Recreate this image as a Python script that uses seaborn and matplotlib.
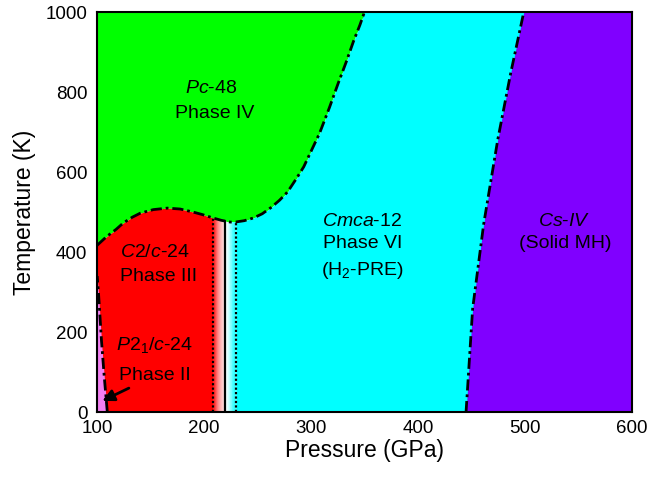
import numpy as np
import matplotlib
matplotlib.use('Agg')
import matplotlib.pyplot as plt
import seaborn as sns

# ---------- Data ----------
# upper boundary of phases II/III/VI (dash-dot curve), Pressure (GPa) vs T (K)
curve_p = [100, 108, 117, 124, 132, 140, 152, 165, 177, 187, 197, 205, 215, 224, 229,
           237, 246, 254, 262, 270, 278, 285, 293, 300, 308, 316, 324, 332, 339, 345, 350]
curve_t = [417, 437, 455, 472, 486, 497, 506, 510, 508, 502, 495, 488, 480, 475, 475,
           478, 485, 495, 510, 528, 550, 578, 612, 652, 697, 752, 812, 868, 922, 962, 1000]

# Phase II / Phase III boundary (left, near 100 GPa)
ii_t = [0, 60, 160, 230, 290, 340]
ii_p = [109.5, 107.5, 104.5, 102.8, 101.5, 100]

# Phase VI / Cs-IV boundary
iv_t = [0, 255, 462, 672, 838, 1000]
iv_p = [445, 451, 461, 474, 486, 499]

# transition lines around phase III -> VI
dot_left, solid_mid, dot_right = 208, 220, 230

colors = {'IV': '#00ff00', 'III': '#ff0000', 'II': '#f27ff2',
          'VI': '#00ffff', 'MH': '#8000ff'}

labels = [
    ('$\\mathit{Pc}$-48', 207, 810), ('Phase IV', 210, 747),
    ('$\\mathit{C2/c}$-24', 154, 400), ('Phase III', 157, 338),
    ('$\\mathit{P}$2$_1$/$\\mathit{c}$-24', 154, 167), ('Phase II', 154, 92),
    ('$\\mathit{Cmca}$-12', 348, 477), ('Phase VI', 348, 422), ('(H$_2$-PRE)', 348, 355),
    ('$\\mathit{Cs}$-$\\mathit{IV}$', 537, 477), ('(Solid MH)', 538, 422),
]

# ---------- Style ----------
sns.set_style('ticks')
plt.rcParams['font.family'] = ['Liberation Sans', 'DejaVu Sans']
plt.rcParams['mathtext.fontset'] = 'custom'
plt.rcParams['mathtext.rm'] = 'Liberation Sans'
plt.rcParams['mathtext.it'] = 'Liberation Sans:italic'
plt.rcParams['text.color'] = 'black'
plt.rcParams['axes.labelcolor'] = 'black'

fig = plt.figure(figsize=(6.52, 4.82), dpi=100)
ax = fig.add_axes([0.149, 0.145, 0.820, 0.830])

p = np.linspace(100, 350, 1000)
t_curve = np.interp(p, curve_p, curve_t)

def boundary(x):
    return np.interp(x, curve_p, curve_t, right=1000)

# Phase IV (green) above the curve
ax.fill_between(p, t_curve, 1000, color=colors['IV'], lw=0)

# Phase VI (cyan)
p_vi = np.linspace(dot_right, 510, 600)
ax.fill_between(p_vi, 0, boundary(p_vi), color=colors['VI'], lw=0)

# Phase III (red)
p_iii = np.linspace(100, dot_left, 400)
ax.fill_between(p_iii, 0, boundary(p_iii), color=colors['III'], lw=0)

# gradients red -> white -> cyan
n = 14
red = np.array(matplotlib.colors.to_rgb(colors['III']))
cyan = np.array(matplotlib.colors.to_rgb(colors['VI']))
white = np.ones(3)
edges = np.linspace(dot_left, solid_mid, n + 1)
for i in range(n):
    f = (i + 0.5) / n
    xs = np.linspace(edges[i], edges[i + 1], 5)
    ax.fill_between(xs, 0, boundary(xs), color=red * (1 - f) + white * f, lw=0)
edges = np.linspace(solid_mid, dot_right, n + 1)
for i in range(n):
    f = (i + 0.5) / n
    xs = np.linspace(edges[i], edges[i + 1], 5)
    ax.fill_between(xs, 0, boundary(xs), color=white * (1 - f) + cyan * f, lw=0)

# Phase II (magenta) and Cs-IV (purple)
t2 = np.linspace(0, ii_t[-1], 200)
ax.fill_betweenx(t2, 100, np.interp(t2, ii_t, ii_p), color=colors['II'], lw=0)
t4 = np.linspace(0, 1000, 400)
ax.fill_betweenx(t4, np.interp(t4, iv_t, iv_p), 600, color=colors['MH'], lw=0)

# boundaries
dashdot = (0, (4, 1.4, 1, 1.4))
ax.plot(p, t_curve, color='black', lw=2, linestyle=dashdot)
ax.plot(np.interp(t2, ii_t, ii_p), t2, color='black', lw=2, linestyle=dashdot)
ax.plot(np.interp(t4, iv_t, iv_p), t4, color='black', lw=2, linestyle=dashdot)
ax.plot([dot_left, dot_left], [0, boundary(dot_left)], color='black', lw=1.6, linestyle=(0, (1, 1)))
ax.plot([dot_right, dot_right], [0, boundary(dot_right)], color='black', lw=1.6, linestyle=(0, (1, 1)))
ax.plot([solid_mid, solid_mid], [0, boundary(solid_mid)], color='black', lw=1.6)

# labels
for txt, x, y in labels:
    ax.text(x, y, txt, ha='center', va='center', fontsize=14, color='black')

ax.annotate('', xy=(102.5, 25), xytext=(132, 63),
            arrowprops=dict(arrowstyle='-|>,head_length=0.7,head_width=0.35',
                            color='black', lw=2))

ax.set_xlim(100, 600)
ax.set_ylim(0, 1000)
ax.set_xticks([100, 200, 300, 400, 500, 600])
ax.set_xticks(np.arange(150, 600, 100), minor=True)
ax.set_yticks([0, 200, 400, 600, 800, 1000])
ax.set_yticks(np.arange(100, 1000, 200), minor=True)
ax.tick_params(which='both', direction='in', top=True, right=True, width=1.3,
               labelsize=13.5, colors='black')
ax.tick_params(which='major', length=5)
ax.tick_params(which='minor', length=4)
ax.tick_params(axis='x', which='major', pad=6)
ax.tick_params(axis='y', which='major', pad=7)
for s in ax.spines.values():
    s.set_linewidth(1.5)
    s.set_color('black')
ax.set_xlabel('Pressure (GPa)', fontsize=16.5, labelpad=1)
ax.set_ylabel('Temperature (K)', fontsize=16.5, labelpad=7)

fig.savefig('out.png', dpi=100)
